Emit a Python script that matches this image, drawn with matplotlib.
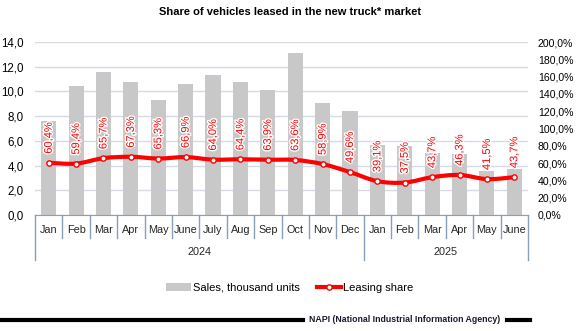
import matplotlib
matplotlib.use("Agg")
import matplotlib.pyplot as plt
import matplotlib.patheffects as pe
from matplotlib.path import Path
from matplotlib.patches import PathPatch, Patch
from matplotlib.lines import Line2D
from matplotlib import font_manager
import numpy as np

months = ["Jan", "Feb", "Mar", "Apr", "May", "June", "July", "Aug", "Sep", "Oct", "Nov", "Dec",
          "Jan", "Feb", "Mar", "Apr", "May", "June"]
years = ["2024", "2025"]
year_counts = [12, 6]
sales = [7.6, 10.4, 11.6, 10.8, 9.3, 10.6, 11.3, 10.8, 10.1, 13.1, 9.1, 8.4,
         5.7, 5.6, 5.0, 4.9, 3.6, 3.7]
share = [60.4, 59.4, 65.7, 67.3, 65.3, 66.9, 64.0, 64.4, 63.9, 63.6, 58.9, 49.6,
         39.1, 37.5, 43.7, 46.3, 41.5, 43.7]
left_ticks = [0, 2, 4, 6, 8, 10, 12, 14]
right_ticks = [0, 20, 40, 60, 80, 100, 120, 140, 160, 180, 200]

FONT = ["Liberation Sans", "DejaVu Sans"]
plt.rcParams["font.family"] = FONT

available = {f.name for f in font_manager.fontManager.ttflist}
if "Liberation Sans Narrow" in available:
    footer_family = ["Liberation Sans Narrow", "DejaVu Sans"]
    footer_size = 7.5
elif "DejaVu Sans Condensed" in available:
    footer_family = ["DejaVu Sans Condensed", "DejaVu Sans"]
    footer_size = 6.5
else:
    footer_family = ["Liberation Sans", "DejaVu Sans"]
    footer_size = 6.3

W, H = 580, 331
fig = plt.figure(figsize=(W / 100, H / 100), dpi=100)
L, R, T, B = 35, 528, 42, 215
ax = fig.add_axes([L / W, 1 - B / H, (R - L) / W, (B - T) / H])
ax2 = ax.twinx()

axis_col = "#8C9DB8"
grid_col = "#D5DAE6"
n = len(months)
x = np.arange(n)

ax.bar(x, sales, width=0.55, color="#C8C8C8", zorder=2)
ax.set_xlim(-0.5, n - 0.5)
ax.set_ylim(0, 14)
ax.set_yticks(left_ticks)
ax.set_yticklabels([f"{v:.1f}".replace(".", ",") for v in left_ticks], fontsize=8.3)
ax.yaxis.grid(True, color=grid_col, linewidth=1)
ax.set_axisbelow(True)
ax.tick_params(axis="y", length=0, pad=8)
ax.set_xticks([])
for s in ["top", "right", "left"]:
    ax.spines[s].set_visible(False)
ax.spines["bottom"].set_color(axis_col)

ax2.set_ylim(0, 200)
ax2.set_yticks(right_ticks)
ax2.set_yticklabels([f"{v:.1f}".replace(".", ",") + "%" for v in right_ticks], fontsize=7.6)
ax2.tick_params(axis="y", length=0, pad=7)
for s in ["top", "right", "left", "bottom"]:
    ax2.spines[s].set_visible(False)

# smoothed line (Catmull-Rom style bezier through data points)
pts = np.column_stack([x, share]).astype(float)
verts = [tuple(pts[0])]
codes = [Path.MOVETO]
for i in range(n - 1):
    p0 = pts[i - 1] if i > 0 else pts[i]
    p1 = pts[i]
    p2 = pts[i + 1]
    p3 = pts[i + 2] if i + 2 < n else pts[i + 1]
    c1 = p1 + (p2 - p0) / 6
    c2 = p2 - (p3 - p1) / 6
    verts += [tuple(c1), tuple(c2), tuple(p2)]
    codes += [Path.CURVE4] * 3
ax2.add_patch(PathPatch(Path(verts, codes), facecolor="none", edgecolor="#FF0000",
                        linewidth=3, zorder=3, capstyle="round", joinstyle="round"))
ax2.plot(x, share, linestyle="none", marker="o", markersize=3.8, markerfacecolor="white",
         markeredgecolor="#FF0000", markeredgewidth=1, zorder=4)

for xi, v in zip(x, share):
    ax2.annotate(f"{v:.1f}".replace(".", ",") + "%", (xi, v), xytext=(0, 6.5),
                 textcoords="offset points", rotation=90, ha="center", va="bottom",
                 fontsize=8, color="#FF0000", zorder=5,
                 path_effects=[pe.withStroke(linewidth=2, foreground="white")])

# category axis
tr = ax.get_xaxis_transform()
inner_bot = -(238 - B) / (B - T)
outer_bot = -(260 - B) / (B - T)
month_y = -(230 - B) / (B - T)
year_y = -(252 - B) / (B - T)
for i in range(n + 1):
    xb = i - 0.5
    boundary = i in (0, n) or i == year_counts[0]
    ax.plot([xb, xb], [0, outer_bot if boundary else inner_bot], transform=tr,
            color=axis_col, linewidth=1, clip_on=False)
for i, m in enumerate(months):
    ax.text(i, month_y, m, transform=tr, ha="center", va="center", fontsize=7.8, color="#262626")
start = 0
for yname, cnt in zip(years, year_counts):
    ax.text(start + (cnt - 1) / 2, year_y, yname, transform=tr, ha="center", va="center",
            fontsize=7.8, color="#262626")
    start += cnt

# title
fig.text(290 / W, 1 - 12 / H, "Share of vehicles leased in the new truck* market",
         ha="center", va="center", fontsize=8, fontweight="bold", color="#000000")

# legend
handles = [Patch(facecolor="#C8C8C8", edgecolor="none"),
           Line2D([0], [0], color="#FF0000", linewidth=3, marker="o", markersize=3.8,
                  markerfacecolor="white", markeredgecolor="#FF0000")]
fig.legend(handles, ["Sales, thousand units", "Leasing share"], loc="center",
           bbox_to_anchor=(290 / W, 1 - 288 / H), ncol=2, frameon=False, fontsize=8,
           handlelength=2.2, handletextpad=0.2, columnspacing=1.5)

# footer
fy = 1 - 320 / H
fig.add_artist(Line2D([0, 303 / W], [fy, fy], color="black", linewidth=3))
fig.add_artist(Line2D([507 / W, 530 / W], [fy, fy], color="black", linewidth=3))
fig.text(405 / W, fy, "NAPI (National Industrial Information Agency)", ha="center",
         va="center", fontsize=footer_size, fontweight="bold", color="#1A1A2E",
         family=footer_family)

fig.savefig("out.png", dpi=100, facecolor="white")
